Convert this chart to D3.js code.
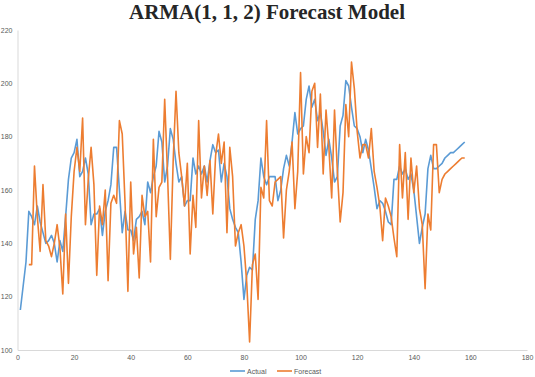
<!DOCTYPE html>
<html>
<head>
<meta charset="utf-8">
<script src="https://cdn.jsdelivr.net/npm/d3@7"></script>
<style>
  html, body { margin: 0; padding: 0; background: #fff; }
  #d3-container { width: 535px; height: 377px; }
</style>
</head>
<body>
<div id="d3-container"></div>
<script>
/**
 * DATA
 * */
const title = "ARMA(1, 1, 2) Forecast Model";
const seriesNames = ["Actual", "Forecast"];
const seriesColors = ["#5B9BD5", "#ED7D31"];
const xTicks = [0, 20, 40, 60, 80, 100, 120, 140, 160, 180];
const yTicks = [100, 120, 140, 160, 180, 200, 220];

// actual values, periods 1..158
const actual = [
  115, 124, 133, 152, 150, 147, 154, 148, 144, 140,
  141, 143, 140, 133, 141, 137, 150, 164, 172, 174,
  179, 165, 167, 172, 166, 147, 151, 151, 153, 143,
  152, 156, 162, 176, 176, 160, 144, 152, 145, 145,
  141, 149, 150, 152, 147, 163, 159, 165, 169, 182,
  178, 163, 169, 183, 179, 170, 163, 165, 154, 156,
  156, 172, 166, 169, 166, 169, 163, 171, 177, 174,
  175, 163, 170, 165, 153, 149, 146, 144, 133, 119,
  128, 131, 130, 149, 156, 172, 165, 162, 165, 165,
  165, 156, 160, 168, 173, 169, 178, 189, 181, 183,
  184, 194, 199, 191, 194, 186, 189, 182, 173, 179,
  172, 163, 165, 184, 188, 201, 199, 191, 184, 183,
  180, 174, 179, 175, 168, 161, 153, 156, 155, 152,
  148, 147, 164, 164, 169, 166, 168, 164, 166, 160,
  150, 140, 146, 151, 168, 173, 168, 168, 169, 170,
  172, 173, 174, 174, 175, 176, 177, 178
];

// forecast values, periods 4..158
const forecastStart = 4;
const forecast = [
  132, 132, 169, 150, 137, 162, 141, 139, 135, 140,
  147, 138, 121, 151, 125, 150, 167, 176, 167, 187,
  147, 164, 176, 162, 128, 154, 147, 160, 126, 155,
  158, 155, 186, 181, 155, 122, 163, 136, 146, 127,
  158, 150, 152, 133, 179, 150, 161, 163, 194, 166,
  134, 171, 197, 174, 165, 154, 170, 136, 158, 146,
  186, 157, 169, 158, 171, 151, 173, 181, 170, 178,
  144, 176, 165, 139, 144, 147, 139, 125, 103, 132,
  136, 119, 161, 157, 186, 156, 154, 163, 164, 165,
  142, 160, 167, 178, 153, 167, 204, 166, 180, 174,
  197, 200, 176, 196, 166, 190, 176, 157, 190, 167,
  148, 159, 192, 180, 208, 198, 182, 172, 177, 177,
  172, 183, 167, 161, 154, 141, 157, 154, 150, 142,
  135, 177, 157, 174, 149, 172, 159, 169, 153, 147,
  123, 151, 145, 177, 177, 159, 164, 166, 167, 168,
  169, 170, 171, 172, 172
];

/**
 * CONSTANTS
 * */
const width = 535,
  height = 377,
  plot = { left: 17.5, right: 527, top: 30, bottom: 350 };

let svg;

function init() {
  svg = d3.select("#d3-container")
    .append("svg")
    .attr("width", width)
    .attr("height", height);

  const xScale = d3.scaleLinear()
    .domain([0, 180])
    .range([plot.left, plot.right]);

  const yScale = d3.scaleLinear()
    .domain([100, 220])
    .range([plot.bottom, plot.top]);

  // title
  svg.append("text")
    .attr("x", 267)
    .attr("y", 19)
    .attr("text-anchor", "middle")
    .attr("font-family", "'Liberation Serif', 'DejaVu Serif', serif")
    .attr("font-weight", "bold")
    .attr("font-size", 21)
    .attr("fill", "#262626")
    .text(title);

  // axes
  const xAxis = d3.axisBottom(xScale).tickValues(xTicks).tickSize(0).tickPadding(5);
  const yAxis = d3.axisLeft(yScale).tickValues(yTicks).tickSize(0).tickPadding(5);

  const gx = svg.append("g")
    .attr("transform", `translate(0, ${plot.bottom})`)
    .call(xAxis);
  const gy = svg.append("g")
    .attr("transform", `translate(${plot.left}, 0)`)
    .call(yAxis);

  [gx, gy].forEach(g => {
    g.select(".domain").attr("stroke", "#d9d9d9");
    g.selectAll("text")
      .attr("font-family", "'Liberation Sans', Arial, sans-serif")
      .attr("font-size", 7)
      .attr("fill", "#595959");
  });

  // lines
  const line = d3.line()
    .x(d => xScale(d[0]))
    .y(d => yScale(d[1]));

  const actualPts = actual.map((v, i) => [i + 1, v]);
  const forecastPts = forecast.map((v, i) => [i + forecastStart, v]);

  [actualPts, forecastPts].forEach((pts, i) => {
    svg.append("path")
      .datum(pts)
      .attr("fill", "none")
      .attr("stroke", seriesColors[i])
      .attr("stroke-width", 1.6)
      .attr("stroke-linejoin", "round")
      .attr("d", line);
  });

  // legend
  const legend = svg.append("g")
    .attr("transform", "translate(230, 371)");

  const items = legend.selectAll("g")
    .data(seriesNames)
    .join("g")
    .attr("transform", (d, i) => `translate(${i * 47}, 0)`);

  items.append("line")
    .attr("x1", 0)
    .attr("x2", 15)
    .attr("stroke", (d, i) => seriesColors[i])
    .attr("stroke-width", 1.6);

  items.append("text")
    .attr("x", 17)
    .attr("y", 2.5)
    .attr("font-family", "'Liberation Sans', Arial, sans-serif")
    .attr("font-size", 7)
    .attr("fill", "#595959")
    .text(d => d);
}

init();
</script>
</body>
</html>
